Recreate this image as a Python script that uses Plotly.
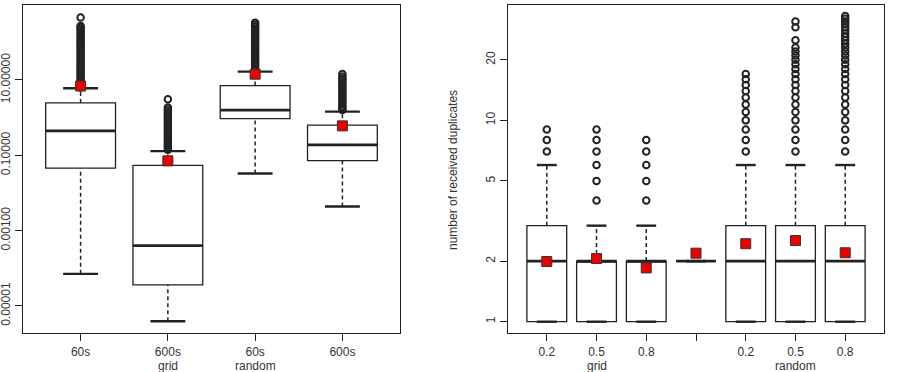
import plotly.graph_objects as go

# ---------------- data: left panel ----------------
left_ticks = ["60s", "600s", "60s", "600s"]
left_q1 = [0.0454, 3.63e-5, 0.942, 0.0723]
left_median = [0.444, 3.98e-4, 1.57, 0.189]
left_q3 = [2.45, 0.0537, 7.07, 0.628]
left_lower = [7.1e-5, 3.9e-6, 0.0327, 0.00435]
left_upper = [6.0, 0.129, 16.6, 1.44]
left_mean = [6.9, 0.071, 14.2, 0.603]
left_outliers = [
    [6.3, 7.1, 8.0, 9.1, 10.3, 11.6, 13.1, 14.8, 16.8, 19.0, 21.5, 24.3, 27.5, 31, 35, 40,
     45, 51, 58, 65, 74, 84, 95, 107, 121, 137, 155, 176, 199, 225, 255, 270, 457],
    [0.14, 0.16, 0.18, 0.2, 0.23, 0.26, 0.29, 0.33, 0.37, 0.42, 0.48, 0.54, 0.61, 0.69,
     0.78, 0.88, 1.0, 1.13, 1.28, 1.45, 1.64, 1.84, 3.07],
    [18, 20, 23, 26, 29, 33, 37, 42, 47, 53, 60, 68, 77, 87, 98, 111, 125, 141, 160, 180,
     204, 230, 260, 294, 331],
    [1.6, 1.8, 2.0, 2.3, 2.6, 2.9, 3.3, 3.7, 4.2, 4.7, 5.3, 6.0, 6.8, 7.6, 8.6, 9.7, 11,
     12.4, 14.4],
]
left_groups = ["grid", "random"]
left_group_at = [2, 3]
left_yticks = [1e-5, 1e-3, 1e-1, 10]
left_yticktext = ["0.00001", "0.00100", "0.10000", "10.00000"]

# ---------------- data: right panel ----------------
right_ticks = ["0.2", "0.5", "0.8", "", "0.2", "0.5", "0.8"]
right_q1 = [1, 1, 1, 2, 1, 1, 1]
right_median = [2, 2, 2, 2, 2, 2, 2]
right_q3 = [3, 2, 2, 2, 3, 3, 3]
right_lower = [1, 1, 1, 2, 1, 1, 1]
right_upper = [6, 3, 3, 2, 6, 6, 6]
right_mean = [1.99, 2.06, 1.85, 2.19, 2.44, 2.53, 2.20]
right_outliers = [
    [7, 8, 9],
    [4, 5, 6, 7, 8, 9],
    [4, 5, 6, 7, 8],
    [],
    [7, 8, 9, 10, 11, 12, 13, 14, 15, 16, 17],
    [7, 8, 9, 10, 11, 12, 13, 14, 15, 16, 17, 18, 19, 20, 21, 22, 23, 25, 29, 31],
    [7, 8, 9, 10, 11, 12, 13, 14, 15, 16, 17, 18, 19, 20, 21, 22, 23, 24, 25, 26, 27, 28,
     29, 30, 31, 32, 33],
]
right_groups = ["grid", "random"]
right_group_at = [2, 6]
right_yticks = [1, 2, 5, 10, 20]
right_ytitle = "number of received duplicates"

FONT = "Liberation Sans, Arial, Helvetica, sans-serif"
INK = "#222222"
TXT = "#333333"
BOXW = 0.8
CAPW = 0.4

fig = go.Figure()


def add_panel(xa, ya, q1, med, q3, lo, hi, mean, outs):
    n = len(q1)
    pos = list(range(1, n + 1))
    fig.add_trace(go.Box(
        x=pos, q1=q1, median=med, q3=q3, lowerfence=q1, upperfence=q3,
        width=BOXW, whiskerwidth=0, fillcolor="white", boxpoints=False,
        line=dict(color=INK, width=1.3), xaxis=xa, yaxis=ya, showlegend=False,
        hoverinfo="skip"))
    # dashed whiskers
    wx, wy = [], []
    for p, a, b, c, d in zip(pos, lo, q1, q3, hi):
        if a < b:
            wx += [p, p, None]; wy += [a, b, None]
        if d > c:
            wx += [p, p, None]; wy += [c, d, None]
    fig.add_trace(go.Scatter(x=wx, y=wy, mode="lines", xaxis=xa, yaxis=ya,
                             line=dict(color=INK, width=1.5, dash="4px,3px"),
                             showlegend=False, hoverinfo="skip"))
    # staples
    sx, sy = [], []
    for p, a, d in zip(pos, lo, hi):
        sx += [p - CAPW / 2, p + CAPW / 2, None, p - CAPW / 2, p + CAPW / 2, None]
        sy += [a, a, None, d, d, None]
    fig.add_trace(go.Scatter(x=sx, y=sy, mode="lines", xaxis=xa, yaxis=ya,
                             line=dict(color=INK, width=2.4),
                             showlegend=False, hoverinfo="skip"))
    # medians
    mx, my = [], []
    for p, m in zip(pos, med):
        mx += [p - BOXW / 2, p + BOXW / 2, None]
        my += [m, m, None]
    fig.add_trace(go.Scatter(x=mx, y=my, mode="lines", xaxis=xa, yaxis=ya,
                             line=dict(color=INK, width=2.8),
                             showlegend=False, hoverinfo="skip"))
    # outliers
    ox, oy = [], []
    for p, vals in zip(pos, outs):
        ox += [p] * len(vals)
        oy += vals
    fig.add_trace(go.Scatter(x=ox, y=oy, mode="markers", xaxis=xa, yaxis=ya,
                             marker=dict(symbol="circle-open", size=6.5, color=INK,
                                         line=dict(width=2, color=INK)),
                             showlegend=False, hoverinfo="skip"))
    # means
    fig.add_trace(go.Scatter(x=pos, y=mean, mode="markers", xaxis=xa, yaxis=ya,
                             marker=dict(symbol="square", size=10, color="#ee0000",
                                         line=dict(width=1, color="#333333")),
                             showlegend=False, hoverinfo="skip"))


add_panel("x", "y", left_q1, left_median, left_q3, left_lower, left_upper, left_mean,
          left_outliers)
add_panel("x2", "y2", right_q1, right_median, right_q3, right_lower, right_upper,
          right_mean, right_outliers)

W, H = 905, 372
ydom = [(H - 333) / H, (H - 5) / H]

axis_common = dict(showline=True, mirror=True, linecolor=INK, linewidth=1.3,
                   ticks="outside", ticklen=7, tickwidth=1.3, tickcolor=INK,
                   showgrid=False, zeroline=False,
                   tickfont=dict(family=FONT, size=12, color=TXT))

fig.update_layout(
    width=W, height=H, margin=dict(l=0, r=0, t=0, b=0),
    paper_bgcolor="white", plot_bgcolor="white",
    xaxis=dict(domain=[23 / W, 400 / W], range=[0.34, 4.66],
               tickvals=list(range(1, len(left_ticks) + 1)), ticktext=left_ticks,
               anchor="y", **axis_common),
    yaxis=dict(domain=ydom, type="log", range=[-5.72, 2.99],
               tickvals=left_yticks, ticktext=left_yticktext, tickangle=-90,
               anchor="x", **axis_common),
    xaxis2=dict(domain=[508 / W, 884 / W], range=[0.22, 7.78],
                tickvals=list(range(1, len(right_ticks) + 1)), ticktext=right_ticks,
                anchor="y2", **axis_common),
    yaxis2=dict(domain=ydom, type="log", range=[-0.056, 1.573],
                tickvals=right_yticks, ticktext=[str(v) for v in right_yticks],
                tickangle=-90, anchor="x2", **axis_common),
)

annotations = []
for g, p in zip(left_groups, left_group_at):
    annotations.append(dict(x=p, xref="x", y=(H - 366) / H, yref="paper", text=g,
                            showarrow=False, font=dict(family=FONT, size=12, color=TXT),
                            yanchor="middle"))
for g, p in zip(right_groups, right_group_at):
    annotations.append(dict(x=p, xref="x2", y=(H - 366) / H, yref="paper", text=g,
                            showarrow=False, font=dict(family=FONT, size=12, color=TXT),
                            yanchor="middle"))
annotations.append(dict(x=453 / W, xref="paper", y=(H - 170) / H, yref="paper",
                        text=right_ytitle, textangle=-90, showarrow=False,
                        font=dict(family=FONT, size=12, color=TXT)))
fig.update_layout(annotations=annotations)

fig.write_html("out.html")
